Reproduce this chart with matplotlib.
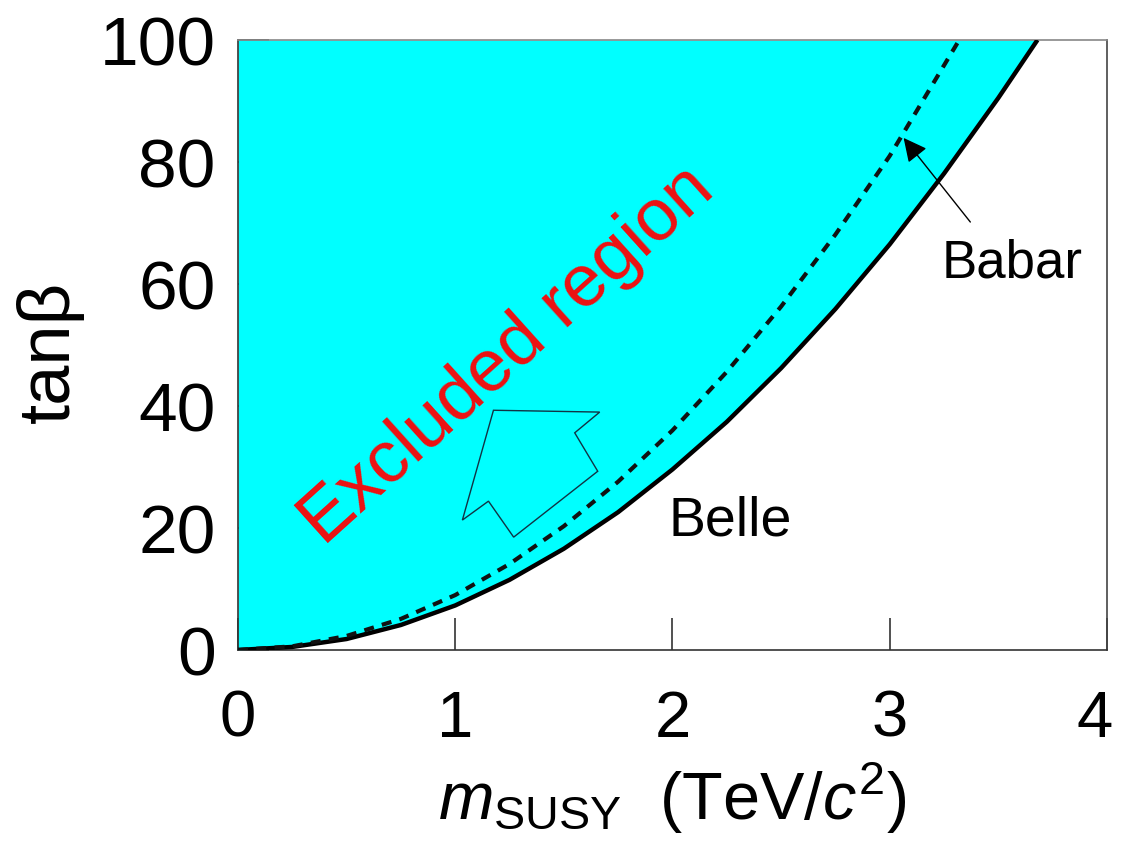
import numpy as np
import matplotlib
matplotlib.use('Agg')
import matplotlib.pyplot as plt
from matplotlib.patches import Polygon
from matplotlib.transforms import ScaledTranslation

plt.rcParams['font.family'] = ['Liberation Sans', 'DejaVu Sans']
plt.rcParams['mathtext.fontset'] = 'custom'
plt.rcParams['mathtext.rm'] = 'Liberation Sans'
plt.rcParams['mathtext.it'] = 'Liberation Sans:italic'

# Belle limit (solid)
belle_m = [0, 0.25, 0.5, 0.75, 1.0, 1.25, 1.5, 1.75, 2.0, 2.25, 2.5, 2.75, 3.0, 3.25, 3.5, 3.68]
belle_tb = [0, 0.5, 1.8, 4.1, 7.3, 11.5, 16.6, 22.6, 29.6, 37.4, 46.2, 55.9, 66.5, 78.1, 90.5, 100]

# Babar limit (dashed)
babar_m = [0, 0.25, 0.5, 0.75, 1.0, 1.25, 1.5, 1.75, 2.0, 2.25, 2.5, 2.75, 3.0, 3.32]
babar_tb = [0, 0.6, 2.3, 5.1, 9.0, 14.1, 20.3, 27.6, 36.0, 45.6, 56.3, 68.1, 81.0, 100]

# hollow arrow outline pointing into the excluded region
arrow_x = [1.176, 1.665, 1.550, 1.656, 1.269, 1.153, 1.033]
arrow_y = [39.3, 39.0, 35.6, 29.3, 18.5, 24.4, 21.3]

xticks = [0, 1, 2, 3, 4]
yticks = [0, 20, 40, 60, 80, 100]

fig = plt.figure(figsize=(11.22, 8.45), dpi=100)
ax = fig.add_axes([0.2121, 0.2296, 0.7745, 0.7219])
ax.set_axisbelow(True)

ax.fill_between(belle_m, belle_tb, 100, color='#00FFFF', lw=0, zorder=1)
ax.plot(belle_m, belle_tb, color='black', lw=3.2, zorder=3, solid_capstyle='butt')
ax.plot(babar_m, babar_tb, color='#111111', lw=3.0, ls=(0, (2.4, 2.0)), zorder=3)

ax.add_patch(Polygon(np.column_stack([arrow_x, arrow_y]), closed=True, fill=False,
                     edgecolor='#113344', lw=1.0, zorder=3))

ax.text(1.24, 48.5, 'Excluded region', color='#EE1111', fontsize=53, rotation=42,
        ha='center', va='center', rotation_mode='anchor', zorder=4)
ax.text(1.98, 19.0, 'Belle', fontsize=40, ha='left', va='baseline')
ax.text(3.24, 61.3, 'Babar', fontsize=38, ha='left', va='baseline')
ax.annotate('', xy=(3.056, 84.3), xytext=(3.379, 69.8),
            arrowprops=dict(arrowstyle='-|>,head_length=0.6,head_width=0.3',
                            color='black', lw=1.0, mutation_scale=24))

ax.set_xlim(0, 4)
ax.set_ylim(0, 100)
ax.set_xticks(xticks)
ax.set_yticks(yticks)
ax.tick_params(axis='x', direction='in', length=23, width=1.2, color='#333333',
               labelsize=47, pad=28)
ax.tick_params(axis='y', direction='in', length=22, width=1.2, color='#333333',
               labelsize=50, pad=16)
for s in ax.spines.values():
    s.set_color('#333333')
    s.set_linewidth(1.2)
ax.spines['top'].set_color('#888888')
ax.spines['right'].set_color('#444444')

# nudge the last x label so it stays inside the figure
last = ax.get_xticklabels()[-1]
last.set_transform(last.get_transform() + ScaledTranslation(-9/72, 0, fig.dpi_scale_trans))

ax.set_xlabel(r'$m_{\mathrm{SUSY}}$  (TeV/$c^{2}$)', fontsize=48, labelpad=8)
ax.set_ylabel('tanβ', fontsize=52)
ax.yaxis.set_label_coords(-0.177, 0.49)

fig.savefig('out.png', dpi=100)
